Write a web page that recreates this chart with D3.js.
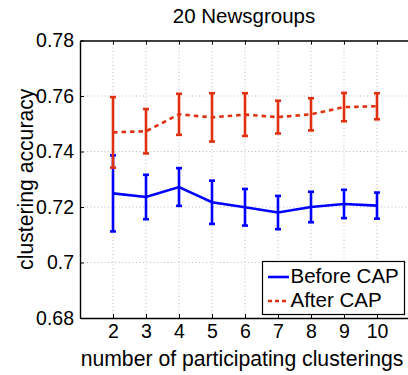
<!DOCTYPE html>
<html>
<head>
<meta charset="utf-8">
<script src="https://cdn.jsdelivr.net/npm/d3@7"></script>
<style>
  body { margin: 0; background: #fff; }
  svg { display: block; font-family: "Liberation Sans", Arial, sans-serif; }
</style>
</head>
<body>
<div id="chart"></div>
<script>
// number of participating clusterings
const clusterings = [2, 3, 4, 5, 6, 7, 8, 9, 10];
// Before CAP: mean accuracy and error half-width
const beforeMean = [0.7249, 0.7236, 0.7272, 0.7217, 0.7199, 0.7180, 0.7200, 0.7211, 0.7205];
const beforeErr  = [0.0137, 0.0080, 0.0068, 0.0078, 0.0066, 0.0060, 0.0055, 0.0051, 0.0047];
// After CAP
const afterMean = [0.7469, 0.7473, 0.7534, 0.7523, 0.7533, 0.7524, 0.7534, 0.7560, 0.7563];
const afterErr  = [0.0127, 0.0080, 0.0074, 0.0087, 0.0077, 0.0059, 0.0058, 0.0051, 0.0047];
const yTicks = [0.68, 0.70, 0.72, 0.74, 0.76, 0.78];
const yTickLabels = ["0.68", "0.7", "0.72", "0.74", "0.76", "0.78"];

const W = 408, H = 375;
const pLeft = 80, pTop = 40.5, pBottom = 318, pRight = 410;

const svg = d3.select("#chart").append("svg")
    .attr("width", W)
    .attr("height", H);

const x = d3.scaleLinear().domain([1, 11]).range([pLeft, pRight]);
const y = d3.scaleLinear().domain([0.68, 0.78]).range([pBottom, pTop]);

// grid
const grid = svg.append("g")
    .attr("stroke", "#aaa")
    .attr("stroke-width", 0.8)
    .attr("stroke-dasharray", "1,2.5");
grid.selectAll("line.v")
    .data(clusterings)
    .join("line")
    .attr("class", "v")
    .attr("x1", d => x(d)).attr("x2", d => x(d))
    .attr("y1", pTop).attr("y2", pBottom);
grid.selectAll("line.h")
    .data(yTicks.slice(1, -1))
    .join("line")
    .attr("class", "h")
    .attr("x1", pLeft).attr("x2", pRight)
    .attr("y1", d => y(d)).attr("y2", d => y(d));

// axes (ticks inward like matlab)
const xAxisB = svg.append("g")
    .attr("transform", `translate(0,${pBottom})`)
    .call(d3.axisBottom(x).tickValues(clusterings).tickSizeInner(-4).tickSizeOuter(0).tickPadding(6));
const xAxisT = svg.append("g")
    .attr("transform", `translate(0,${pTop})`)
    .call(d3.axisTop(x).tickValues(clusterings).tickSizeInner(-4).tickSizeOuter(0).tickFormat(""));
const yAxis = svg.append("g")
    .attr("transform", `translate(${pLeft},0)`)
    .call(d3.axisLeft(y).tickValues(yTicks).tickSizeInner(-4).tickSizeOuter(0).tickPadding(6)
        .tickFormat((d, i) => yTickLabels[i]));

[xAxisB, xAxisT, yAxis].forEach(g => {
    g.select(".domain").attr("stroke", "#000").attr("stroke-width", 1.4);
    g.selectAll(".tick line").attr("stroke", "#000").attr("stroke-width", 1);
    g.selectAll("text").attr("fill", "#000").style("font-size", "19.5px")
        .style("font-family", "'Liberation Sans', Arial, sans-serif");
});

// series
const series = [
    { name: "Before CAP", mean: beforeMean, err: beforeErr, color: "#0000ff", dash: null },
    { name: "After CAP", mean: afterMean, err: afterErr, color: "#e0300f", dash: "4.5,4" }
];

series.forEach(s => {
    const pts = clusterings.map((c, i) => ({ c, m: s.mean[i], e: s.err[i] }));
    const g = svg.append("g");
    g.append("path")
        .datum(pts)
        .attr("fill", "none")
        .attr("stroke", s.color)
        .attr("stroke-width", 2.6)
        .attr("stroke-dasharray", s.dash)
        .attr("d", d3.line().x(d => x(d.c)).y(d => y(d.m)));
    const eb = g.selectAll("g.eb").data(pts).join("g")
        .attr("class", "eb")
        .attr("stroke", s.color)
        .attr("stroke-width", 2.6);
    eb.append("line")
        .attr("x1", d => x(d.c)).attr("x2", d => x(d.c))
        .attr("y1", d => y(d.m + d.e)).attr("y2", d => y(d.m - d.e));
    eb.append("line")
        .attr("x1", d => x(d.c) - 3).attr("x2", d => x(d.c) + 3)
        .attr("y1", d => y(d.m + d.e)).attr("y2", d => y(d.m + d.e));
    eb.append("line")
        .attr("x1", d => x(d.c) - 3).attr("x2", d => x(d.c) + 3)
        .attr("y1", d => y(d.m - d.e)).attr("y2", d => y(d.m - d.e));
});

// legend
const lg = svg.append("g").attr("transform", "translate(262.5,261.5)");
lg.append("rect")
    .attr("width", 142).attr("height", 53)
    .attr("fill", "#fff").attr("stroke", "#000").attr("stroke-width", 1.2);
series.forEach((s, i) => {
    const ly = 15.5 + i * 24;
    lg.append("line")
        .attr("x1", 5.5).attr("x2", 26.5)
        .attr("y1", ly).attr("y2", ly)
        .attr("stroke", s.color).attr("stroke-width", 2.6)
        .attr("stroke-dasharray", s.dash ? "4,3" : null);
    lg.append("text")
        .attr("x", 28).attr("y", ly + 5.5)
        .style("font-size", "20.5px")
        .text(s.name);
});

// title and labels
svg.append("text")
    .attr("x", 244).attr("y", 23)
    .attr("text-anchor", "middle")
    .style("font-size", "20.5px")
    .text("20 Newsgroups");

svg.append("text")
    .attr("x", 242).attr("y", 366)
    .attr("text-anchor", "middle")
    .style("font-size", "21.2px")
    .text("number of participating clusterings");

svg.append("text")
    .attr("transform", `translate(32.5,${(pTop + pBottom) / 2}) rotate(-90)`)
    .attr("text-anchor", "middle")
    .style("font-size", "21.2px")
    .text("clustering accuracy");
</script>
</body>
</html>
